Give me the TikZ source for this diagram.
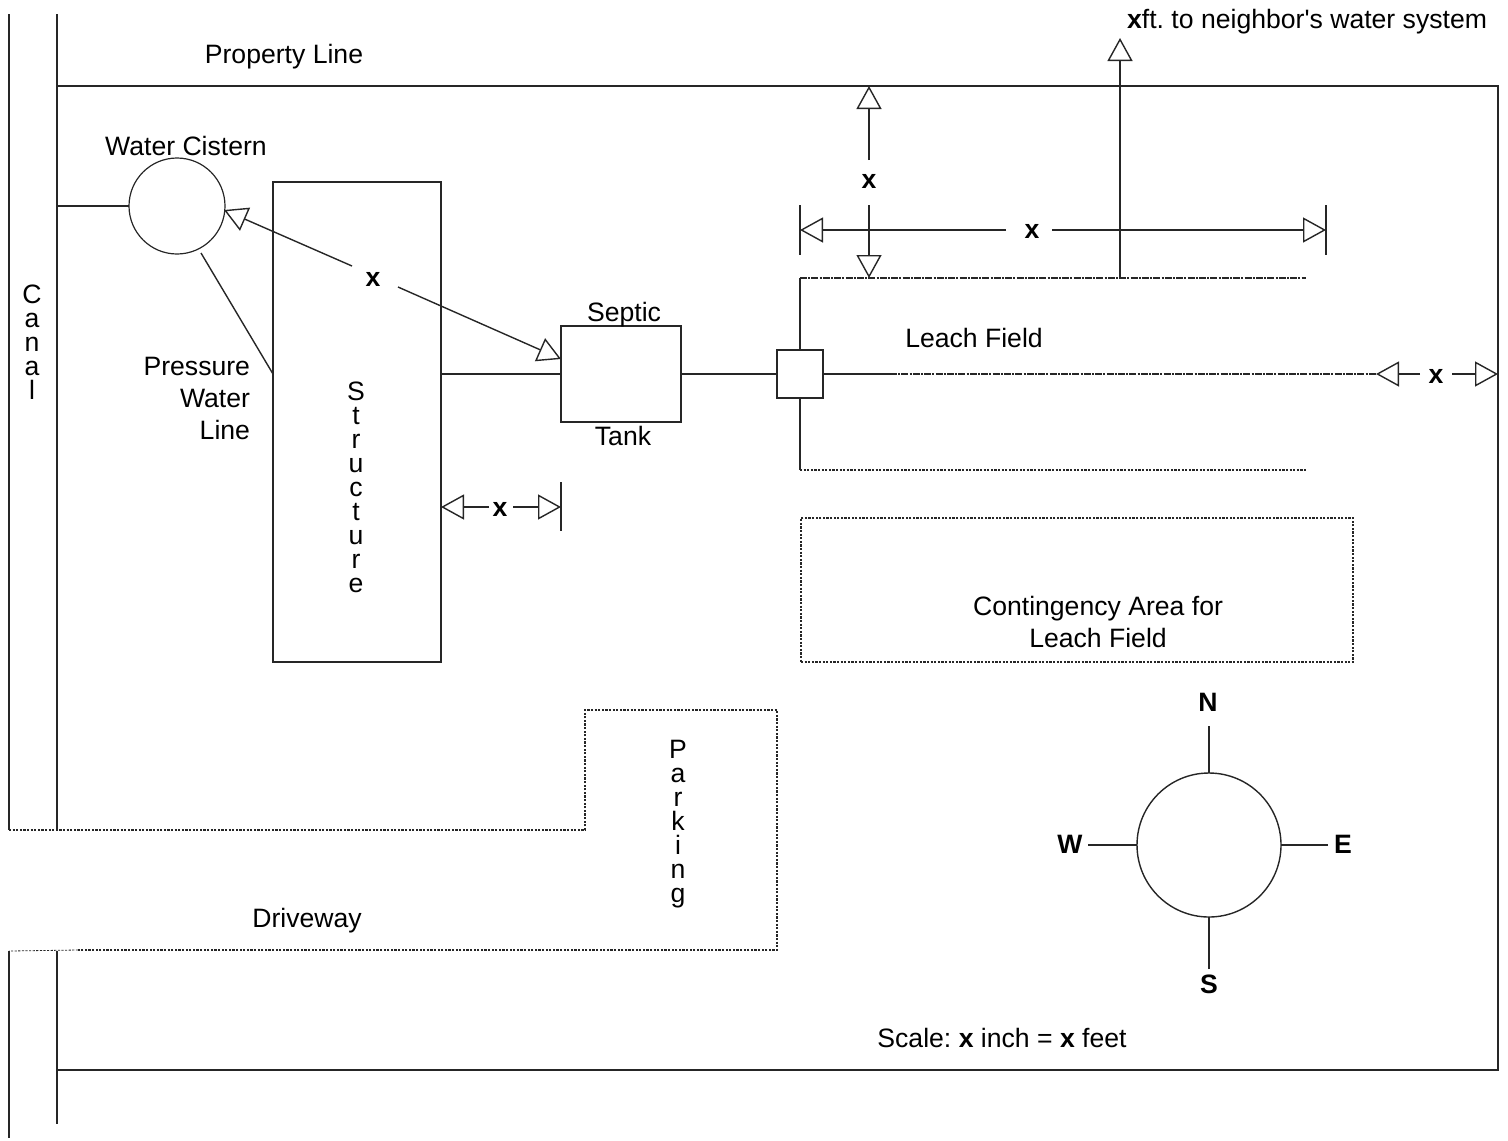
\documentclass[tikz,border=0pt]{standalone}
\usepackage{fontspec}
\newfontfamily\plainsans{Liberation Sans}
\usetikzlibrary{arrows.meta}
\tikzset{
  every node/.style={font=\plainsans\fontsize{13.3}{12}\selectfont\frenchspacing,inner sep=0pt,outer sep=0pt},
  ln/.style={line width=0.7pt,draw=black!85},
  dotline/.style={ln,line width=0.65pt,dash pattern=on 1.1pt off 0.7pt},
  dashdot/.style={ln,line width=0.65pt,dash pattern=on 3.5pt off 0.6pt on 1pt off 0.6pt},
  opentip/.style={ln,-{Triangle[open,length=11.5pt,width=12.5pt,fill=white]}},
  bar/.style={ln,line width=0.8pt},
  boxnode/.style={ln,fill=white,rectangle},
  stack/.style={align=center},
  dimx/.style={font=\plainsans\fontsize{13.3}{12}\selectfont\bfseries}
}
\begin{document}
\begin{tikzpicture}[x=0.5pt,y=-0.5pt]
\useasboundingbox (0,0) rectangle (1508,1140);
% key points
\coordinate (c1t) at (9,14); \coordinate (c1b) at (9,830);
\coordinate (c2t) at (57,14); \coordinate (c2b) at (57,830);
\coordinate (c1u) at (9,951); \coordinate (c1e) at (9,1138);
\coordinate (c2u) at (57,951); \coordinate (c2e) at (57,1124);
\coordinate (pa) at (57,86); \coordinate (pb) at (1498,86);
\coordinate (pc) at (1498,1070); \coordinate (pd) at (57,1070);
\coordinate (canalJoin) at (57,206);
\coordinate (press1) at (201,253); \coordinate (press2) at (273,374);
\coordinate (fieldTop) at (800,278); \coordinate (fieldTopEnd) at (1306,278);
\coordinate (fieldBot) at (800,470); \coordinate (fieldBotEnd) at (1306,470);
\coordinate (fieldMid) at (890,374); \coordinate (fieldMidEnd) at (1376,374);
\coordinate (driveEnd) at (78,950);
% canal and property
\draw[ln] (c1t) -- (c1b);
\draw[ln] (c2t) -- (c2b);
\draw[ln] (c1u) -- (c1e);
\draw[ln] (c2u) -- (c2e);
\draw[ln] (pa) -- (pb) -- (pc) -- (pd);
% driveway and parking
\draw[dotline] (c1b) -- (585,830) -- (585,710) -- (777,710) -- (777,950) -- (driveEnd);
\draw[dotline,line width=0.4pt] (driveEnd) -- (c1u);
% nodes
\node[ln,line width=0.6pt,circle,minimum size=48pt] (cistern) at (177,206) {};
\node[boxnode,minimum width=84pt,minimum height=240pt,fill=none] (structure) at (357,422) {};
\node[boxnode,minimum width=60pt,minimum height=48pt] (septic) at (621,374) {};
\node[boxnode,minimum width=23pt,minimum height=24pt] (dbox) at (800,374) {};
\node[dotline,rectangle,minimum width=276pt,minimum height=72pt] (contingency) at (1077,590) {};
\node[ln,circle,minimum size=72pt] (compass) at (1209,845) {};
% pipes
\draw[ln] (canalJoin) -- (cistern.west);
\draw[ln] (press1) -- (press2);
\draw[ln] (structure.east |- septic.west) -- (septic.west);
\draw[ln] (septic.east) -- (dbox.west);
\draw[ln] (dbox.north) -- (fieldTop);
\draw[ln] (dbox.south) -- (fieldBot);
\draw[ln] (dbox.east) -- (fieldMid);
\draw[dashdot] (fieldTop) -- (fieldTopEnd);
\draw[dashdot] (fieldMid) -- (fieldMidEnd);
\draw[dotline] (fieldBot) -- (fieldBotEnd);
% compass
\node[dimx] (north) at (1208,702) {N};
\node[dimx] (south) at (1209,984) {S};
\node[dimx] (west) at (1070,844) {W};
\node[dimx] (east) at (1343,844) {E};
\coordinate (na) at (1209,726); \coordinate (sa) at (1209,969);
\coordinate (wa) at (1088,845); \coordinate (ea) at (1328,845);
\draw[ln] (na) -- (compass.north);
\draw[ln] (sa) -- (compass.south);
\draw[ln] (wa) -- (compass.west);
\draw[ln] (ea) -- (compass.east);
% dimension: cistern to septic
\node[dimx] (xdiag) at (373,279) {x};
\coordinate (xd1) at (352,266); \coordinate (xd1t) at (224,210);
\coordinate (xd2) at (398,287); \coordinate (xd2t) at (561,359);
\draw[opentip] (xd1) -- (xd1t);
\draw[opentip] (xd2) -- (xd2t);
% dimension: structure to septic
\node[dimx] (xstruct) at (500,509) {x};
\coordinate (xs1) at (489,507); \coordinate (xs1t) at (441,507);
\coordinate (xs2) at (513,507); \coordinate (xs2t) at (561,507);
\coordinate (xsb1) at (561,482); \coordinate (xsb2) at (561,531);
\draw[opentip] (xs1) -- (xs1t);
\draw[opentip] (xs2) -- (xs2t);
\draw[bar] (xsb1) -- (xsb2);
% dimension: property to field
\node[dimx] (xvert) at (869,181) {x};
\coordinate (xv1) at (869,160); \coordinate (xv1t) at (869,86);
\coordinate (xv2) at (869,205); \coordinate (xv2t) at (869,278);
\draw[opentip] (xv1) -- (xv1t);
\draw[opentip] (xv2) -- (xv2t);
% dimension: field width
\node[dimx] (xhor) at (1032,231) {x};
\coordinate (xh1) at (1006,230); \coordinate (xh1t) at (800,230);
\coordinate (xh2) at (1052,230); \coordinate (xh2t) at (1326,230);
\coordinate (xhb1) at (800,205); \coordinate (xhb2) at (800,255);
\coordinate (xhb3) at (1326,205); \coordinate (xhb4) at (1326,255);
\draw[opentip] (xh1) -- (xh1t);
\draw[opentip] (xh2) -- (xh2t);
\draw[bar] (xhb1) -- (xhb2);
\draw[bar] (xhb3) -- (xhb4);
% dimension: to neighbor
\coordinate (nb1) at (1120,278); \coordinate (nb1t) at (1120,38);
\draw[opentip] (nb1) -- (nb1t);
% dimension: field to property
\node[dimx] (xright) at (1436,376) {x};
\coordinate (xr1) at (1420,374); \coordinate (xr2) at (1452,374);
\draw[opentip] (xr1) -- (fieldMidEnd);
\coordinate (xr2t) at (1498,374);
\draw[opentip] (xr2) -- (xr2t);
% labels
\node[anchor=east] (neighbor) at (1487,22) {\textbf{x}ft. to neighbor's water system};
\node (propline) at (284,57) {Property Line};
\node (cisternlbl) at (186,146) {Water Cistern};
\node[stack] (canal) at (32,342) {C\\a\\n\\a\\l};
\node[align=right,anchor=east,font=\plainsans\fontsize{13.3}{16}\selectfont] (presslbl) at (250,398) {Pressure\\Water\\Line};
\node (septiclbl) at (624,315) {Septic};
\node (tanklbl) at (623,436) {Tank};
\node (leachlbl) at (974,338) {Leach Field};
\node[stack] (structlbl) at (356,487) {S\\t\\r\\u\\c\\t\\u\\r\\e};
\node[stack] (parklbl) at (678,824) {P\\a\\r\\k\\i\\n\\g};
\node (drivelbl) at (307,921) {Driveway};
\node[align=center,font=\plainsans\fontsize{13.3}{16}\selectfont] (contlbl) at (1098,622) {Contingency Area for\\Leach Field};
\node (scalelbl) at (1002,1038) {Scale: \textbf{x} inch = \textbf{x} feet};
\end{tikzpicture}
\end{document}
